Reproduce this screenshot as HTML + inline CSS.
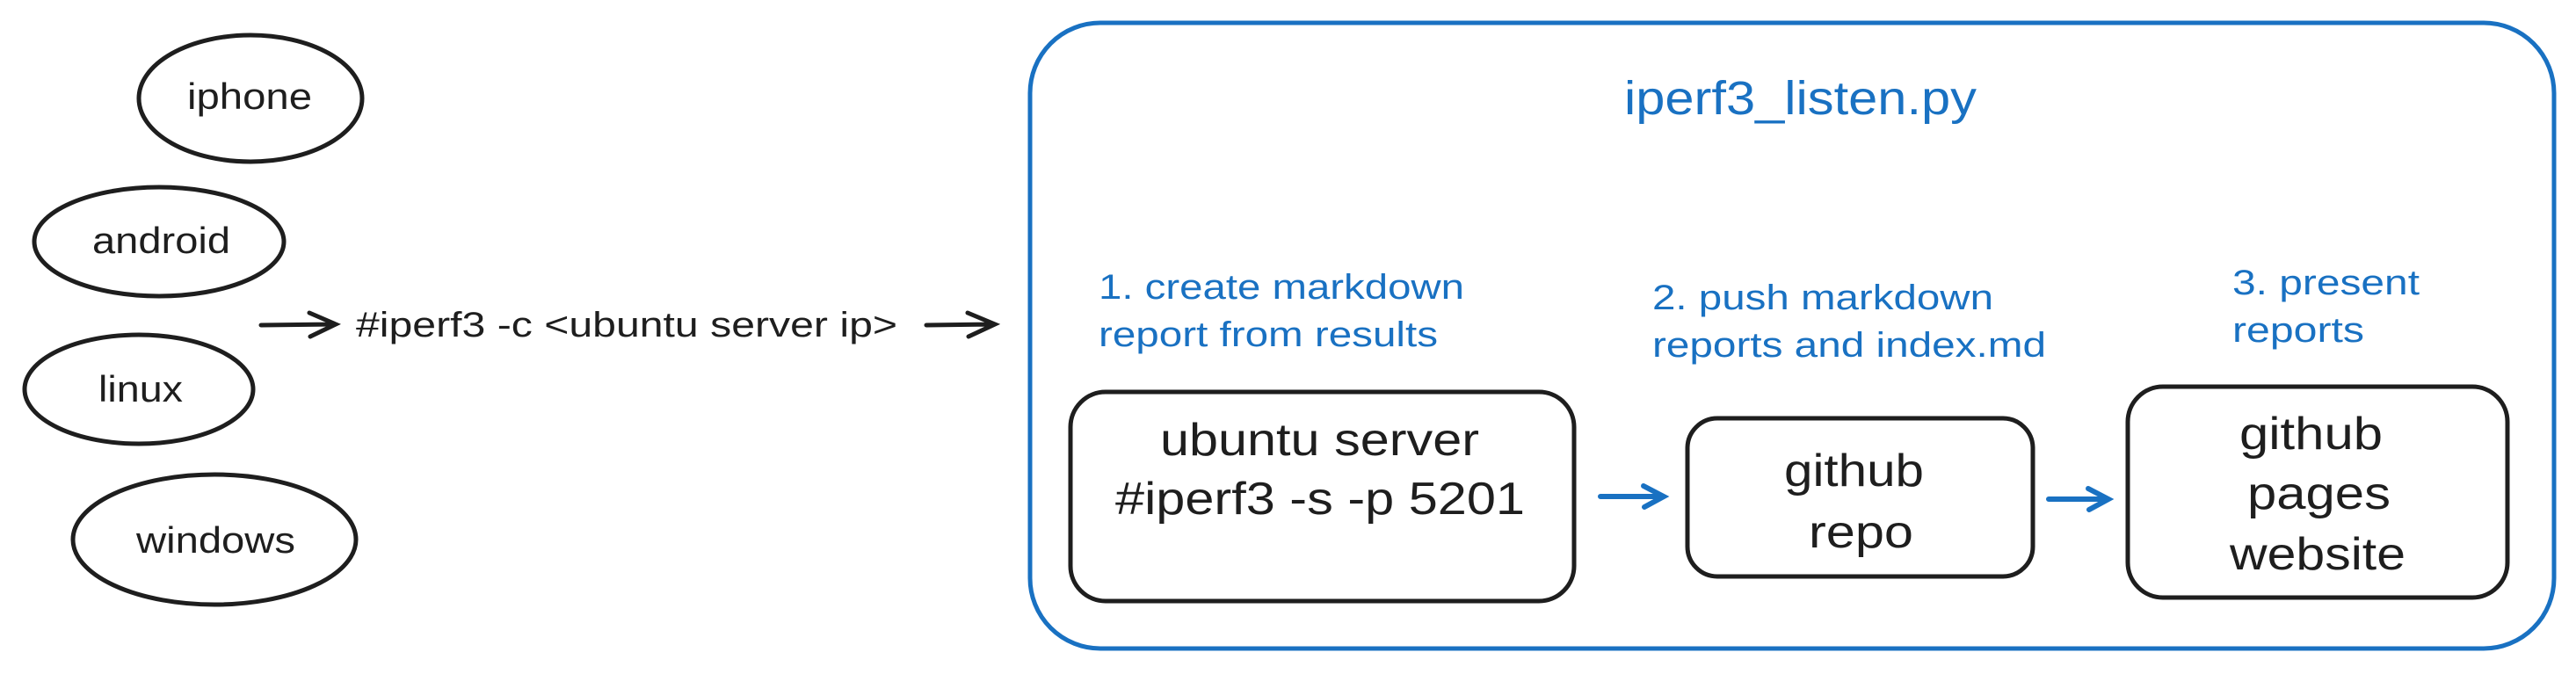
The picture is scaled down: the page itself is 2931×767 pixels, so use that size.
<!DOCTYPE html>
<html><head><meta charset="utf-8"><style>
html,body{margin:0;padding:0;background:#fff;}
svg{display:block;}
text{font-family:"Liberation Sans",sans-serif;}
</style></head><body>
<svg width="2931" height="767" viewBox="0 0 2931 767" xmlns="http://www.w3.org/2000/svg">
<g fill="none" stroke="#1e1e1e" stroke-width="5" stroke-linecap="round">
  <ellipse cx="285" cy="112" rx="127" ry="72"/>
  <ellipse cx="181" cy="275" rx="142" ry="62"/>
  <ellipse cx="158" cy="443" rx="130" ry="62"/>
  <ellipse cx="244" cy="614" rx="161" ry="74"/>
  <path d="M297 370 L381 369 M352 356 L382 369 L353 383"/>
  <path d="M1054 370 L1131 369 M1101 356 L1132 369 L1102 383"/>
  <rect x="1218" y="446" width="573" height="238" rx="40"/>
  <rect x="1920" y="476" width="393" height="180" rx="34"/>
  <rect x="2421" y="440" width="432" height="240" rx="40"/>
</g>
<g fill="none" stroke="#1971c2" stroke-linecap="round">
  <rect x="1172" y="26" width="1734" height="712" rx="80" stroke-width="5"/>
  <path d="M1821 565 L1891 565 M1870 553 L1893 565 L1871 577" stroke-width="6"/>
  <path d="M2331 568 L2397 568 M2376 556 L2399 568 L2377 580" stroke-width="6"/>
</g>
<g fill="#1e1e1e" text-anchor="start">
  <text x="213" y="124" font-size="42" textLength="142" lengthAdjust="spacingAndGlyphs">iphone</text>
  <text x="105" y="288" font-size="42" textLength="157" lengthAdjust="spacingAndGlyphs">android</text>
  <text x="112" y="457" font-size="42" textLength="96" lengthAdjust="spacingAndGlyphs">linux</text>
  <text x="155" y="629" font-size="42" textLength="181" lengthAdjust="spacingAndGlyphs">windows</text>
  <text x="405" y="383" font-size="40" textLength="616" lengthAdjust="spacingAndGlyphs">#iperf3 -c &lt;ubuntu server ip&gt;</text>
  <text x="1320" y="518" font-size="52" textLength="363" lengthAdjust="spacingAndGlyphs">ubuntu server</text>
  <text x="1269" y="585" font-size="52" textLength="466" lengthAdjust="spacingAndGlyphs">#iperf3 -s -p 5201</text>
  <text x="2030" y="553" font-size="52" textLength="159" lengthAdjust="spacingAndGlyphs">github</text>
  <text x="2058" y="623" font-size="52" textLength="119" lengthAdjust="spacingAndGlyphs">repo</text>
  <text x="2548" y="511" font-size="52" textLength="163" lengthAdjust="spacingAndGlyphs">github</text>
  <text x="2557" y="579" font-size="52" textLength="163" lengthAdjust="spacingAndGlyphs">pages</text>
  <text x="2537" y="648" font-size="52" textLength="200" lengthAdjust="spacingAndGlyphs">website</text>
</g>
<g fill="#1971c2">
  <text x="1848" y="130" font-size="54" textLength="401" lengthAdjust="spacingAndGlyphs">iperf3_listen.py</text>
  <text x="1250" y="340" font-size="40" textLength="416" lengthAdjust="spacingAndGlyphs">1. create markdown</text>
  <text x="1250" y="394" font-size="40" textLength="386" lengthAdjust="spacingAndGlyphs">report from results</text>
  <text x="1880" y="352" font-size="40" textLength="388" lengthAdjust="spacingAndGlyphs">2. push markdown</text>
  <text x="1880" y="406" font-size="40" textLength="448" lengthAdjust="spacingAndGlyphs">reports and index.md</text>
  <text x="2540" y="335" font-size="40" textLength="213" lengthAdjust="spacingAndGlyphs">3. present</text>
  <text x="2540" y="389" font-size="40" textLength="150" lengthAdjust="spacingAndGlyphs">reports</text>
</g>
</svg>
</body></html>
